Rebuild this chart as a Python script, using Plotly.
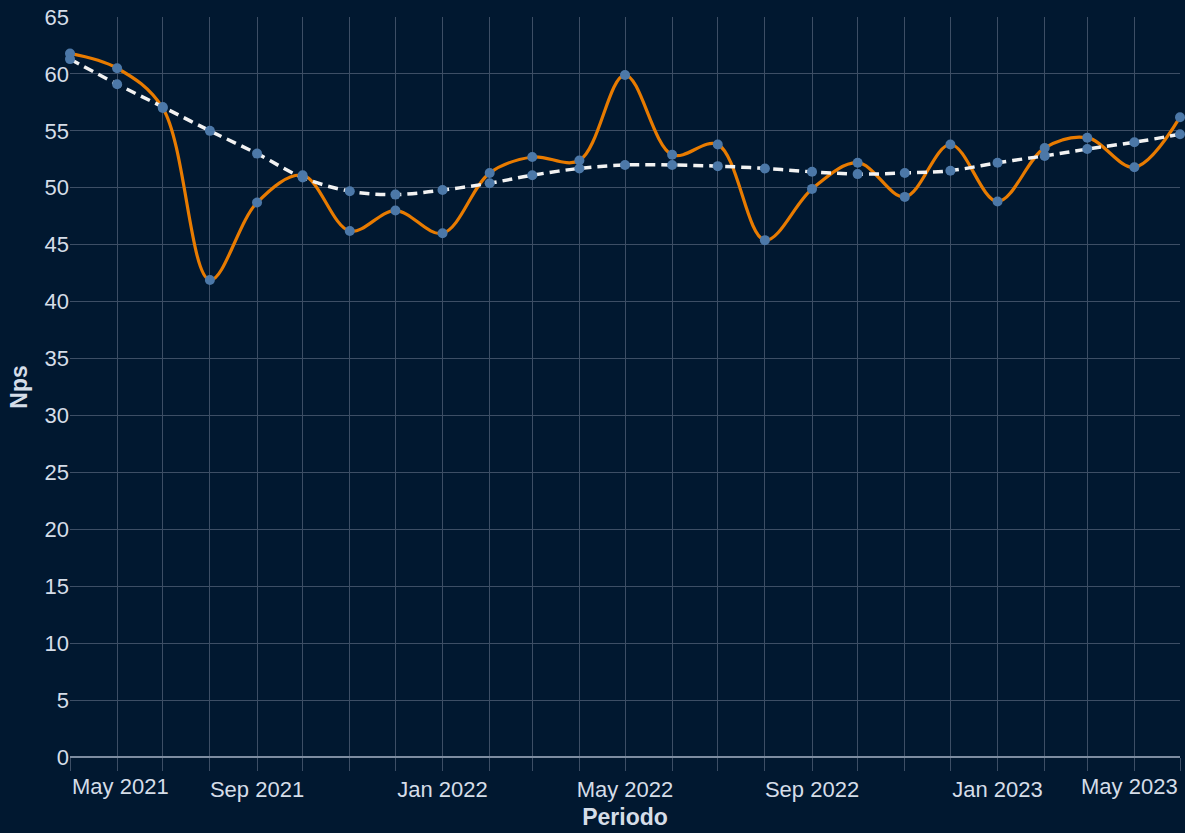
import plotly.graph_objects as go

periods = ["2021-05-01", "2021-06-01", "2021-07-01", "2021-08-01", "2021-09-01",
           "2021-10-01", "2021-11-01", "2021-12-01", "2022-01-01", "2022-02-01",
           "2022-03-01", "2022-04-01", "2022-05-01", "2022-06-01", "2022-07-01",
           "2022-08-01", "2022-09-01", "2022-10-01", "2022-11-01", "2022-12-01",
           "2023-01-01", "2023-02-01", "2023-03-01", "2023-04-01", "2023-05-01"]
nps = [61.8, 60.5, 57.0, 41.9, 48.7, 51.1, 46.2, 48.0, 46.0, 51.3,
       52.7, 52.4, 59.9, 52.9, 53.8, 45.4, 49.9, 52.2, 49.2, 53.8,
       48.8, 53.5, 54.4, 51.8, 56.2]
trend = [61.3, 59.1, 57.1, 55.0, 53.0, 50.9, 49.7, 49.4, 49.8, 50.4,
         51.1, 51.7, 52.0, 52.0, 51.9, 51.7, 51.4, 51.2, 51.3, 51.5,
         52.2, 52.8, 53.4, 54.0, 54.7]
tick_dates = ["2021-05-01", "2021-09-01", "2022-01-01", "2022-05-01",
              "2022-09-01", "2023-01-01", "2023-05-01"]
tick_labels = ["May 2021", "Sep 2021", "Jan 2022", "May 2022",
               "Sep 2022", "Jan 2023", "May 2023"]

BG = "#011830"
TXT = "#d5dde8"
GRID = "#3d4e65"
FONT = "Liberation Sans, Arial, sans-serif"

fig = go.Figure()
fig.add_trace(go.Scatter(x=periods, y=nps, mode="lines",
                         line=dict(color="#e87b00", width=3.2, shape="spline", smoothing=1.0),
                         hoverinfo="skip", showlegend=False))
fig.add_trace(go.Scatter(x=periods, y=trend, mode="lines",
                         line=dict(color="#f2f2f2", width=3.5, dash="10px,6px", shape="spline", smoothing=1.0),
                         hoverinfo="skip", showlegend=False))
fig.add_trace(go.Scatter(x=periods, y=nps, mode="markers", cliponaxis=False,
                         marker=dict(color="#4c78a8", size=10), showlegend=False))
fig.add_trace(go.Scatter(x=periods, y=trend, mode="markers", cliponaxis=False,
                         marker=dict(color="#4c78a8", size=10), showlegend=False))

mid_text = [""] + tick_labels[1:-1] + [""]

fig.update_layout(
    width=1185, height=833,
    paper_bgcolor=BG, plot_bgcolor=BG,
    margin=dict(l=70, r=5, t=17, b=76),
    font=dict(family=FONT, color=TXT, size=22),
    xaxis=dict(
        range=[periods[0], periods[-1]], type="date",
        tickmode="array", tickvals=tick_dates, ticktext=mid_text,
        ticks="outside", ticklen=13, tickcolor=GRID, tickwidth=1,
        showgrid=True, gridcolor=GRID, gridwidth=1,
        minor=dict(dtick="M1", tick0="2021-05-01", showgrid=True, gridcolor=GRID,
                   ticks="outside", ticklen=13, tickcolor=GRID),
        tickfont=dict(size=22, color=TXT),
        title=dict(text="<b>Periodo</b>", font=dict(size=23, color=TXT), standoff=7),
        showline=False, zeroline=False,
    ),
    yaxis=dict(
        range=[0, 65], dtick=5, tick0=0,
        showgrid=True, gridcolor=GRID, gridwidth=1,
        ticks="", tickfont=dict(size=22, color=TXT),
        title=dict(text="<b>Nps</b>", font=dict(size=23, color=TXT), standoff=10),
        zeroline=True, zerolinecolor="#7d8ca0", zerolinewidth=2,
    ),
)

fig.add_annotation(x=periods[0], y=0, xref="x", yref="paper", text=tick_labels[0],
                   showarrow=False, xanchor="left", yanchor="top", yshift=-15,
                   font=dict(size=22, color=TXT, family=FONT))
fig.add_annotation(x=periods[-1], y=0, xref="x", yref="paper", text=tick_labels[-1],
                   showarrow=False, xanchor="right", yanchor="top", yshift=-15,
                   font=dict(size=22, color=TXT, family=FONT))

fig.write_html("out.html", config={"displayModeBar": False},
               post_script="document.body.style.margin='0';document.body.style.background='#011830';")
